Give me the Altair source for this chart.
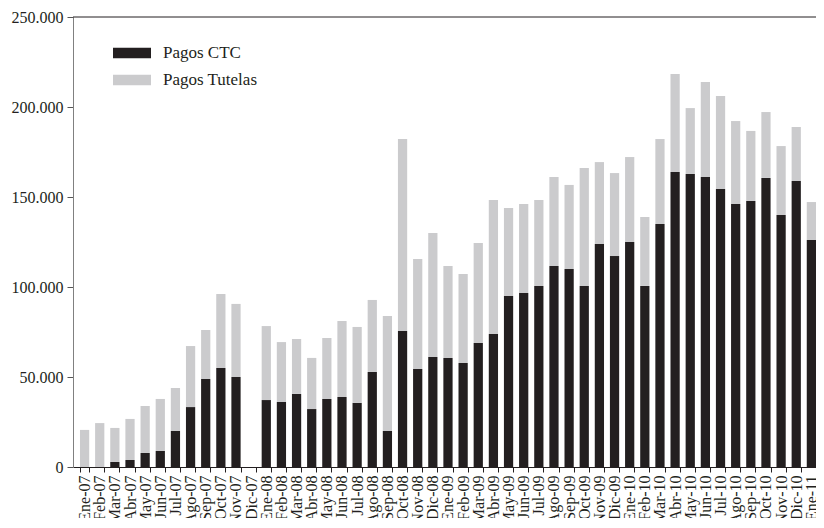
import altair as alt
import pandas as pd

meses = [
    "Ene-07", "Feb-07", "Mar-07", "Abr-07", "May-07", "Jun-07", "Jul-07", "Ago-07", "Sep-07", "Oct-07", "Nov-07", "Dic-07",
    "Ene-08", "Feb-08", "Mar-08", "Abr-08", "May-08", "Jun-08", "Jul-08", "Ago-08", "Sep-08", "Oct-08", "Nov-08", "Dic-08",
    "Ene-09", "Feb-09", "Mar-09", "Abr-09", "May-09", "Jun-09", "Jul-09", "Ago-09", "Sep-09", "Oct-09", "Nov-09", "Dic-09",
    "Ene-10", "Feb-10", "Mar-10", "Abr-10", "May-10", "Jun-10", "Jul-10", "Ago-10", "Sep-10", "Oct-10", "Nov-10", "Dic-10",
    "Ene-11",
]

pagos_ctc = [
    0, 0, 2800, 3900, 7800, 8900, 20000, 33300, 48900, 55000, 50000, 0,
    37200, 36100, 40600, 32200, 37800, 38900, 35600, 52800, 20000, 75600, 54400, 61100,
    60600, 57800, 68900, 73900, 95000, 96700, 100600, 111700, 110000, 100600, 123900, 117200,
    125000, 100600, 135000, 163900, 162800, 161100, 154400, 146100, 147800, 160600, 140000, 158900,
    126100,
]

pagos_tutelas = [
    20600, 24400, 18900, 22800, 26100, 28900, 23900, 33900, 27200, 41100, 40600, 0,
    41100, 33300, 30500, 28400, 33900, 42200, 42200, 40000, 63900, 106600, 61200, 68900,
    51100, 49400, 55500, 74400, 48900, 49400, 47700, 49400, 46700, 65500, 45500, 46100,
    47200, 38300, 47200, 54400, 36600, 52800, 51700, 46100, 38900, 36600, 38300, 30000,
    21100,
]

series = ["Pagos CTC", "Pagos Tutelas"]
colores = ["#231f20", "#cbcbcd"]
y_ticks = [0, 50000, 100000, 150000, 200000, 250000]

rows = []
for m, c, t in zip(meses, pagos_ctc, pagos_tutelas):
    rows.append({"mes": m, "serie": series[0], "valor": c, "orden": 0})
    rows.append({"mes": m, "serie": series[1], "valor": t, "orden": 1})
df = pd.DataFrame(rows)

FONT = "Liberation Serif"

bars = alt.Chart(df).mark_bar().encode(
    x=alt.X(
        "mes:N",
        sort=meses,
        title=None,
        scale=alt.Scale(paddingInner=0.39, paddingOuter=0.23, align=1),
        axis=alt.Axis(
            labelAngle=-90,
            tickBand="extent",
            tickSize=5,
            labelPadding=3,
            labelFont=FONT,
            labelFontSize=16,
            labelColor="#231f20",
            domainColor="#231f20",
            tickColor="#231f20",
            grid=False,
        ),
    ),
    y=alt.Y(
        "valor:Q",
        stack="zero",
        title=None,
        scale=alt.Scale(domain=[0, 250000], nice=False),
        axis=alt.Axis(
            values=y_ticks,
            labelExpr="replace(format(datum.value, ','), /,/g, '.')",
            tickSize=6,
            labelPadding=4,
            labelFont=FONT,
            labelFontSize=16,
            labelColor="#231f20",
            domainColor="#808080",
            tickColor="#555555",
            grid=False,
        ),
    ),
    color=alt.Color(
        "serie:N",
        scale=alt.Scale(domain=series, range=colores),
        legend=alt.Legend(
            title=None,
            orient="none",
            legendX=40,
            legendY=17,
            symbolType="M-1,-0.28L1,-0.28L1,0.28L-1,0.28Z",
            symbolSize=1444,
            symbolStrokeWidth=0,
            labelFont=FONT,
            labelFontSize=17,
            labelColor="#231f20",
            labelOffset=12,
            rowPadding=0,
            padding=0,
        ),
    ),
    order=alt.Order("orden:Q"),
)

top_line = alt.Chart(pd.DataFrame({"y": [250000]})).mark_rule(
    color="#231f20", strokeWidth=1
).encode(y=alt.Y("y:Q"))

chart = alt.layer(bars, top_line).properties(
    width=743,
    height=450,
    autosize=alt.AutoSizeParams(type="none"),
    padding={"left": 65, "top": 9, "right": 0, "bottom": 51},
).configure_view(stroke=None)

chart.save("out.html", embed_options={"renderer": "svg", "actions": False})
